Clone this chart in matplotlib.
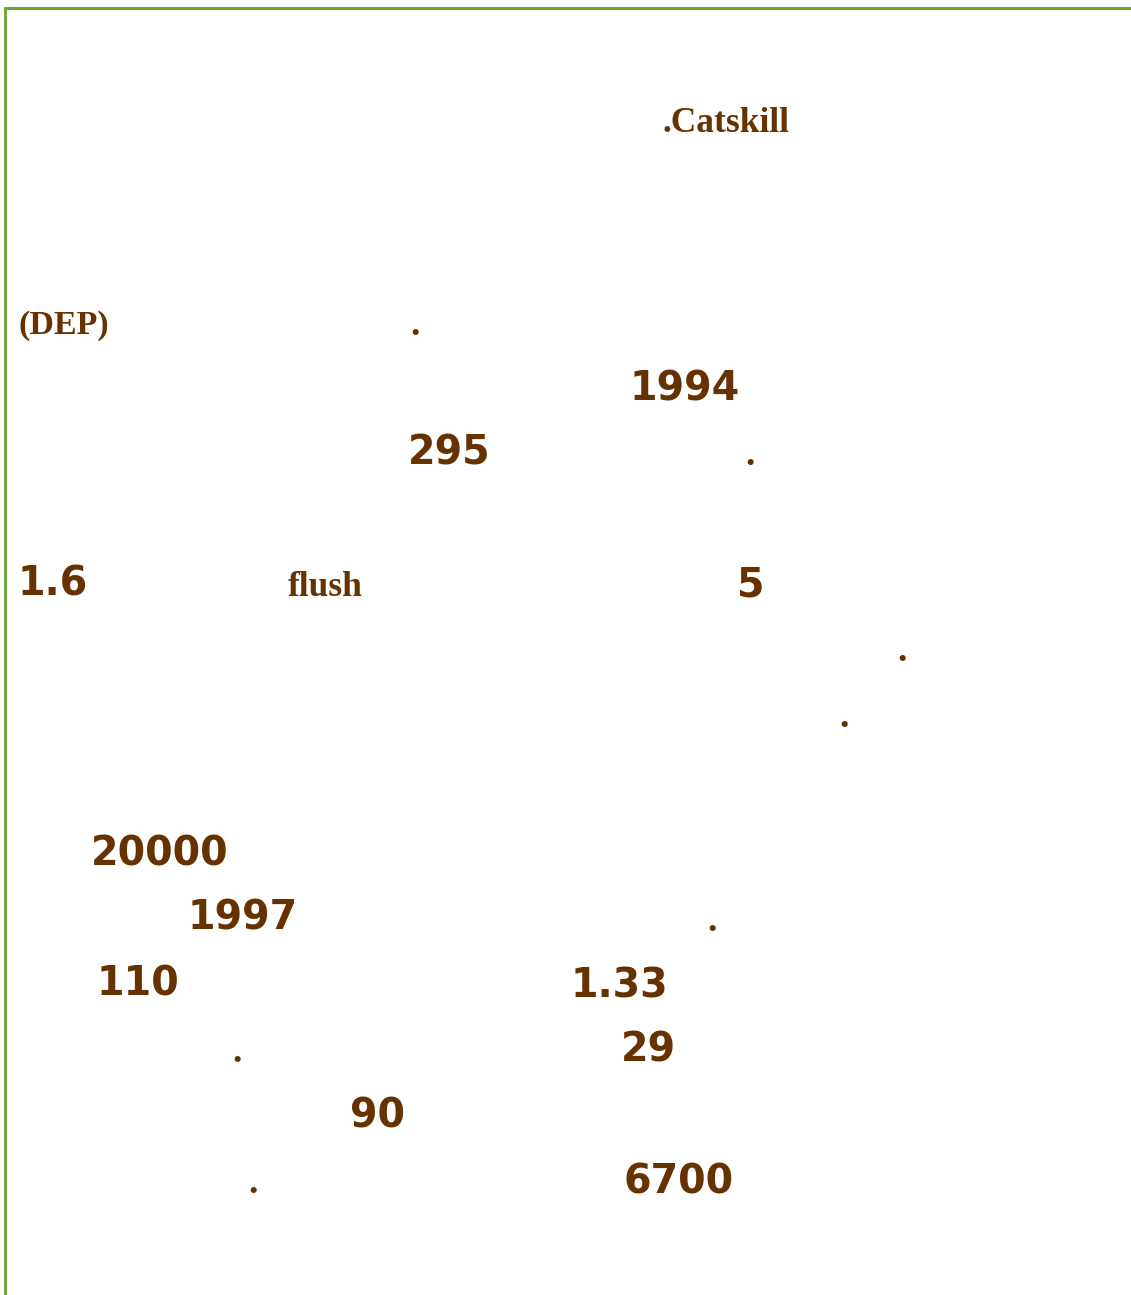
import matplotlib
matplotlib.use("Agg")
import matplotlib.pyplot as plt
from matplotlib.lines import Line2D

W, H = 1131, 1295
BROWN = "#663300"
GREEN = "#6aa72a"

# visible fragments of the page (the Arabic text itself is not rendered)
numbers = ["1994", "295", "1.6", "5", "20000", "1997", "110", "1.33", "29", "90", "6700"]
words = [".Catskill", "(DEP)", "flush"]
n_periods = 7

# layout: left edge / baseline in pixels
number_xy = [(632, 400), (410, 465), (20, 595), (739, 596), (93, 866), (190, 930),
             (99, 996), (573, 997), (623, 1062), (352, 1128), (625, 1193)]
word_xy = [(663, 132), (18, 334), (288, 596)]
period_xy = [(415, 332), (750, 462), (902, 658), (844, 724), (712, 928), (237, 1059), (253, 1190)]


def fx(x):
    return x / W


def fy(y):
    return 1 - y / H


fig = plt.figure(figsize=(W / 100, H / 100), dpi=100)
fig.patch.set_facecolor("white")

# green frame: top and left edges
fig.add_artist(Line2D([fx(4), fx(W)], [fy(8), fy(8)], transform=fig.transFigure,
                      color=GREEN, lw=2.2, solid_capstyle="butt"))
fig.add_artist(Line2D([fx(5), fx(5)], [fy(7), fy(H)], transform=fig.transFigure,
                      color=GREEN, lw=2.0, solid_capstyle="butt"))

for s, (x, y) in zip(numbers, number_xy):
    fig.text(fx(x - 2), fy(y), s, ha="left", va="baseline", color=BROWN,
             fontsize=28.5, fontweight="bold", family="DejaVu Sans")

for s, (x, y) in zip(words, word_xy):
    size = 25.5 if s != "(DEP)" else 24.5
    fig.text(fx(x), fy(y), s, ha="left", va="baseline", color=BROWN,
             fontsize=size, fontweight="bold", family="Liberation Serif")

for x, y in period_xy[:n_periods]:
    fig.text(fx(x), fy(y + 3), ".", ha="center", va="baseline", color=BROWN,
             fontsize=27, fontweight="bold", family="Liberation Serif")

fig.savefig("out.png", dpi=100, facecolor="white")
